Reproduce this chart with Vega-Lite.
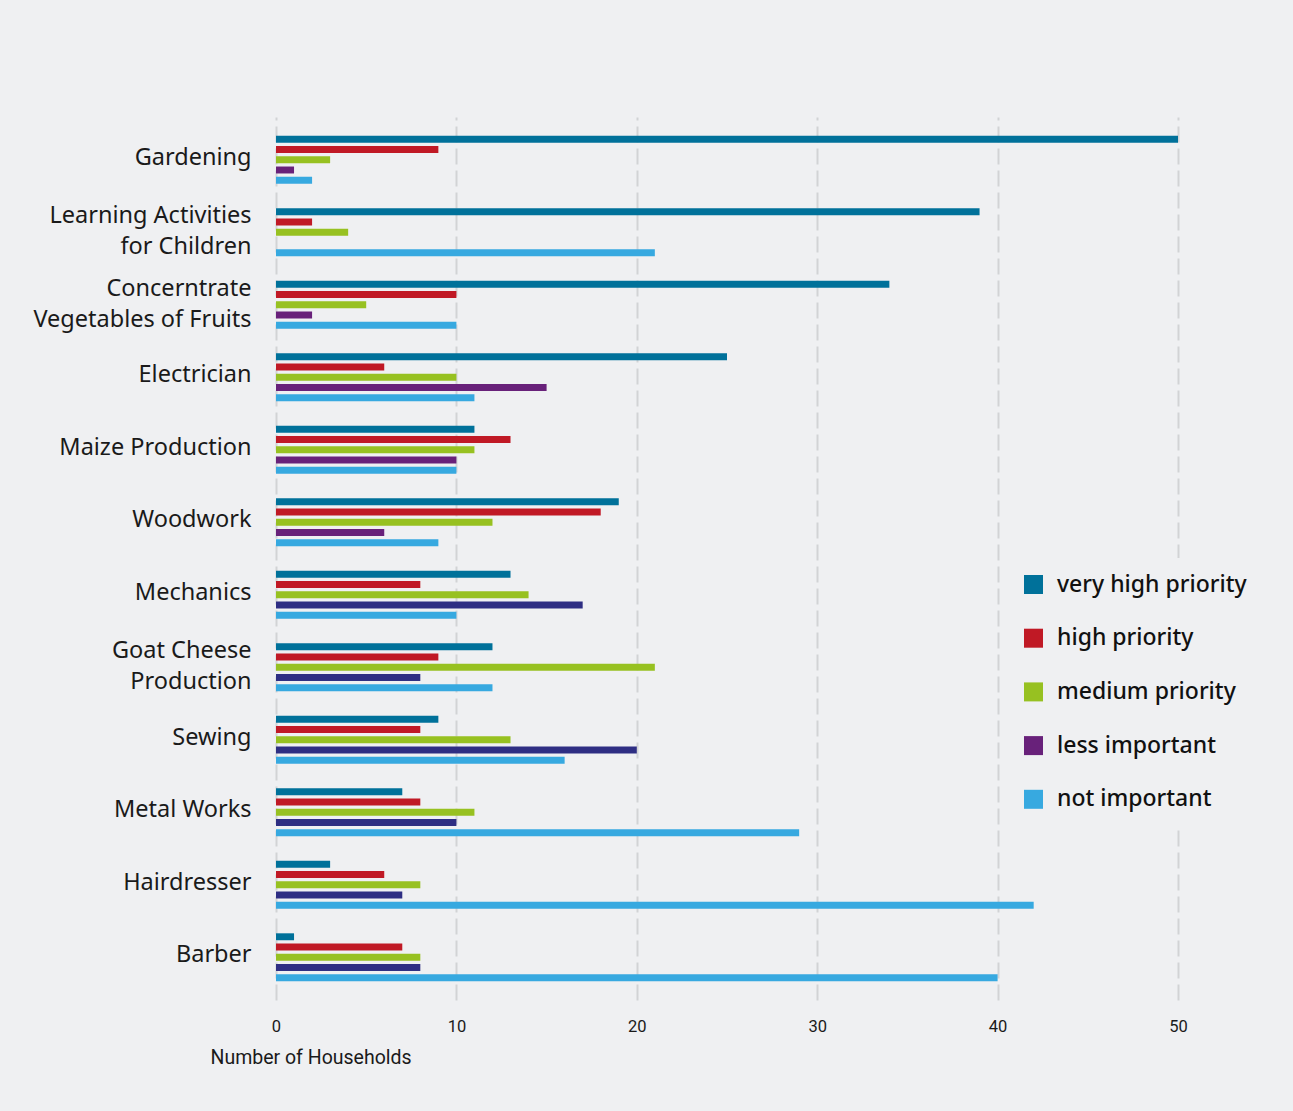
{
  "$schema": "https://vega.github.io/schema/vega-lite/v6.json",
  "autosize": {"type": "none"},
  "padding": {"left": 276, "top": 117, "right": 115, "bottom": 111},
  "width": 902,
  "height": 883,
  "background": "#eff0f2",
  "data": {
    "values": [
      {"activity": "Gardening", "priority": "very high priority", "n": 50},
      {"activity": "Gardening", "priority": "high priority", "n": 9},
      {"activity": "Gardening", "priority": "medium priority", "n": 3},
      {"activity": "Gardening", "priority": "less important", "n": 1},
      {"activity": "Gardening", "priority": "not important", "n": 2},
      {"activity": "Learning Activities\u00a0\u00a0\nfor Children", "priority": "very high priority", "n": 39},
      {"activity": "Learning Activities\u00a0\u00a0\nfor Children", "priority": "high priority", "n": 2},
      {"activity": "Learning Activities\u00a0\u00a0\nfor Children", "priority": "medium priority", "n": 4},
      {"activity": "Learning Activities\u00a0\u00a0\nfor Children", "priority": "less important", "n": 0},
      {"activity": "Learning Activities\u00a0\u00a0\nfor Children", "priority": "not important", "n": 21},
      {"activity": "Concerntrate\u00a0\u00a0\nVegetables of Fruits", "priority": "very high priority", "n": 34},
      {"activity": "Concerntrate\u00a0\u00a0\nVegetables of Fruits", "priority": "high priority", "n": 10},
      {"activity": "Concerntrate\u00a0\u00a0\nVegetables of Fruits", "priority": "medium priority", "n": 5},
      {"activity": "Concerntrate\u00a0\u00a0\nVegetables of Fruits", "priority": "less important", "n": 2},
      {"activity": "Concerntrate\u00a0\u00a0\nVegetables of Fruits", "priority": "not important", "n": 10},
      {"activity": "Electrician", "priority": "very high priority", "n": 25},
      {"activity": "Electrician", "priority": "high priority", "n": 6},
      {"activity": "Electrician", "priority": "medium priority", "n": 10},
      {"activity": "Electrician", "priority": "less important", "n": 15},
      {"activity": "Electrician", "priority": "not important", "n": 11},
      {"activity": "Maize Production", "priority": "very high priority", "n": 11},
      {"activity": "Maize Production", "priority": "high priority", "n": 13},
      {"activity": "Maize Production", "priority": "medium priority", "n": 11},
      {"activity": "Maize Production", "priority": "less important", "n": 10},
      {"activity": "Maize Production", "priority": "not important", "n": 10},
      {"activity": "Woodwork", "priority": "very high priority", "n": 19},
      {"activity": "Woodwork", "priority": "high priority", "n": 18},
      {"activity": "Woodwork", "priority": "medium priority", "n": 12},
      {"activity": "Woodwork", "priority": "less important", "n": 6},
      {"activity": "Woodwork", "priority": "not important", "n": 9},
      {"activity": "Mechanics", "priority": "very high priority", "n": 13},
      {"activity": "Mechanics", "priority": "high priority", "n": 8},
      {"activity": "Mechanics", "priority": "medium priority", "n": 14},
      {"activity": "Mechanics", "priority": "less important", "n": 17},
      {"activity": "Mechanics", "priority": "not important", "n": 10},
      {"activity": "Goat Cheese\u00a0\u00a0\nProduction", "priority": "very high priority", "n": 12},
      {"activity": "Goat Cheese\u00a0\u00a0\nProduction", "priority": "high priority", "n": 9},
      {"activity": "Goat Cheese\u00a0\u00a0\nProduction", "priority": "medium priority", "n": 21},
      {"activity": "Goat Cheese\u00a0\u00a0\nProduction", "priority": "less important", "n": 8},
      {"activity": "Goat Cheese\u00a0\u00a0\nProduction", "priority": "not important", "n": 12},
      {"activity": "Sewing", "priority": "very high priority", "n": 9},
      {"activity": "Sewing", "priority": "high priority", "n": 8},
      {"activity": "Sewing", "priority": "medium priority", "n": 13},
      {"activity": "Sewing", "priority": "less important", "n": 20},
      {"activity": "Sewing", "priority": "not important", "n": 16},
      {"activity": "Metal Works", "priority": "very high priority", "n": 7},
      {"activity": "Metal Works", "priority": "high priority", "n": 8},
      {"activity": "Metal Works", "priority": "medium priority", "n": 11},
      {"activity": "Metal Works", "priority": "less important", "n": 10},
      {"activity": "Metal Works", "priority": "not important", "n": 29},
      {"activity": "Hairdresser", "priority": "very high priority", "n": 3},
      {"activity": "Hairdresser", "priority": "high priority", "n": 6},
      {"activity": "Hairdresser", "priority": "medium priority", "n": 8},
      {"activity": "Hairdresser", "priority": "less important", "n": 7},
      {"activity": "Hairdresser", "priority": "not important", "n": 42},
      {"activity": "Barber", "priority": "very high priority", "n": 1},
      {"activity": "Barber", "priority": "high priority", "n": 7},
      {"activity": "Barber", "priority": "medium priority", "n": 8},
      {"activity": "Barber", "priority": "less important", "n": 8},
      {"activity": "Barber", "priority": "not important", "n": 40}
    ]
  },
  "mark": {"type": "bar", "cornerRadius": 0},
  "encoding": {
    "y": {
      "field": "activity",
      "type": "nominal",
      "sort": null,
      "scale": {"paddingInner": 0.34, "paddingOuter": 0.26},
      "axis": {
        "title": null,
        "domain": false,
        "ticks": false,
        "labelPadding": 25,
        "labelFont": "Noto Sans",
        "labelFontSize": 23.5,
        "labelColor": "#1a1a1a",
        "labelLineHeight": 31,
        "labelLimit": 400,
        "labelOffset": {"condition": {"test": "indexof(datum.value, '\\n') >= 0", "value": -16}, "value": -2},
        "labelExpr": "split(datum.label, '\\n')"
      }
    },
    "yOffset": {
      "field": "priority",
      "type": "nominal",
      "sort": ["very high priority", "high priority", "medium priority", "less important", "not important"],
      "scale": {"paddingInner": 0.32, "paddingOuter": 0}
    },
    "x": {
      "field": "n",
      "type": "quantitative",
      "scale": {"domain": [0, 50], "nice": false},
      "axis": {
        "values": [0, 10, 20, 30, 40, 50],
        "domain": false,
        "ticks": false,
        "grid": true,
        "gridDash": [16, 6],
        "gridColor": "#d2d3d5",
        "gridWidth": 2,
        "labelFlush": false,
        "labelFont": "Roboto",
        "labelFontSize": 16.5,
        "labelColor": "#1a1a1a",
        "labelPadding": 18,
        "title": "Number of Households",
        "titleFont": "Roboto",
        "titleFontSize": 19.5,
        "titleFontWeight": "normal",
        "titleColor": "#1a1a1a",
        "titleAnchor": "start",
        "titleAlign": "left",
        "titleX": -66,
        "titleY": 48
      }
    },
    "color": {
      "condition": {
        "test": "datum.priority === 'less important' && indexof(['Mechanics', 'Goat Cheese\u00a0\u00a0\\nProduction', 'Sewing', 'Metal Works', 'Hairdresser', 'Barber'], datum.activity) >= 0",
        "value": "#2e2e83"
      },
      "field": "priority",
      "type": "nominal",
      "scale": {
        "domain": ["very high priority", "high priority", "medium priority", "less important", "not important"],
        "range": ["#00719a", "#c01925", "#97c121", "#68217a", "#37a9e0"]
      },
      "legend": {
        "title": null,
        "orient": "none",
        "legendX": 731,
        "legendY": 441,
        "padding": 15,
        "fillColor": "#eff0f2",
        "symbolType": "square",
        "symbolSize": 361,
        "symbolStrokeWidth": 0,
        "symbolOpacity": 1,
        "labelFont": "Noto Sans",
        "labelFontSize": 23,
        "labelFontWeight": 500,
        "labelColor": "#111111",
        "labelOffset": 12,
        "labelLimit": 400,
        "rowPadding": 29.7
      }
    }
  },
  "config": {"view": {"stroke": null}}
}
